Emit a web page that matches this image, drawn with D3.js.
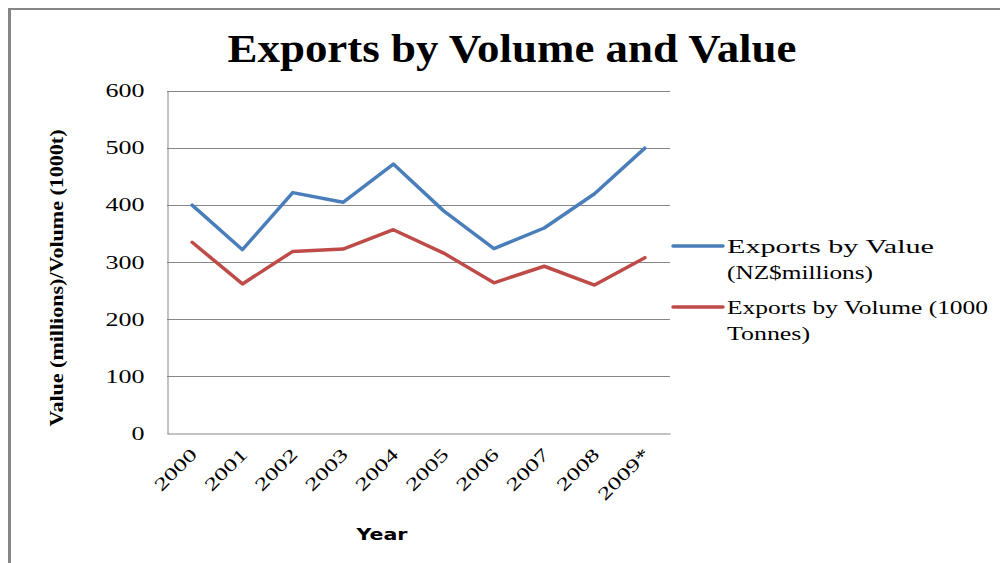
<!DOCTYPE html>
<html><head><meta charset="utf-8">
<script src="https://cdn.jsdelivr.net/npm/d3@7"></script>
<style>body{margin:0;background:#fff}svg{display:block}</style>
</head><body>
<svg id="c" width="1000" height="563"></svg>
<script>
const years = ["2000","2001","2002","2003","2004","2005","2006","2007","2008","2009*"];
const valueSeries = [400, 322, 422, 405, 472, 390, 324, 360, 420, 500];
const volumeSeries = [335, 262, 319, 323, 357, 316, 264, 293, 260, 308];
const yTicks = [0, 100, 200, 300, 400, 500, 600];
const seriesNames = [["Exports by Value", "(NZ$millions)"], ["Exports by Volume (1000", "Tonnes)"]];
const colors = ["#4a7ebb", "#be4b48"];

const svg = d3.select("#c");
const serif = "'Liberation Serif','Times New Roman',serif";

// frame
svg.append("line").attr("x1",9.5).attr("x2",9.5).attr("y1",8).attr("y2",563).attr("stroke","#868686").attr("stroke-width",3);
svg.append("line").attr("x1",8).attr("x2",1000).attr("y1",9).attr("y2",9).attr("stroke","#868686").attr("stroke-width",2);

const L=167, R=670, T=91, B=433.5;
const x = d3.scaleBand().domain(years).range([L,R]);
const y = d3.scaleLinear().domain([0,600]).range([B,T]);

// gridlines
svg.append("g").selectAll("line").data(yTicks.filter(d=>d>0)).join("line")
  .attr("x1",L).attr("x2",R).attr("y1",d=>Math.round(y(d))+0.5).attr("y2",d=>Math.round(y(d))+0.5)
  .attr("stroke","#868686").attr("stroke-width",1);

// y axis
const ya = svg.append("g").attr("transform",`translate(${L+0.5},0)`)
  .call(d3.axisLeft(y).tickValues(yTicks).tickSize(0).tickPadding(23));
ya.select(".domain").attr("stroke","#868686");
ya.selectAll("text").attr("font-family",serif).attr("font-size",18).attr("fill","#000")
  .attr("textLength",d=>String(d).length*13).attr("lengthAdjust","spacingAndGlyphs");

// x axis
const xa = svg.append("g").attr("transform",`translate(0,${B})`)
  .call(d3.axisBottom(x).tickSize(0).tickPadding(0));
xa.select(".domain").attr("stroke","#868686");
xa.selectAll("text").attr("font-family",serif).attr("font-size",18).attr("fill","#000")
  .attr("text-anchor","end").attr("dy",0).attr("y",0)
  .attr("textLength",d=>d.length*13).attr("lengthAdjust","spacingAndGlyphs")
  .attr("transform","translate(6,22) rotate(-45)");

// lines
const line = d3.line().x((d,i)=>x(years[i])+x.bandwidth()/2).y(d=>y(d));
[valueSeries, volumeSeries].forEach((s,i)=>{
  svg.append("path").datum(s).attr("d",line).attr("fill","none")
    .attr("stroke",colors[i]).attr("stroke-width",3.5).attr("stroke-linejoin","round").attr("stroke-linecap","round");
});

// title
svg.append("text").attr("x",512).attr("y",62).attr("text-anchor","middle")
  .attr("font-family",serif).attr("font-weight","bold").attr("font-size",39)
  .attr("textLength",569).attr("lengthAdjust","spacingAndGlyphs")
  .text("Exports by Volume and Value");

// y title
svg.append("text").attr("transform","translate(63,278) rotate(-90)").attr("text-anchor","middle")
  .attr("font-family",serif).attr("font-weight","bold").attr("font-size",19)
  .attr("textLength",297).attr("lengthAdjust","spacingAndGlyphs")
  .text("Value (millions)/Volume (1000t)");

// x title
svg.append("text").attr("x",382).attr("y",540).attr("text-anchor","middle")
  .attr("font-family","'DejaVu Sans',Verdana,sans-serif").attr("font-weight","bold").attr("font-size",16)
  .attr("textLength",51).attr("lengthAdjust","spacingAndGlyphs")
  .text("Year");

// legend
const legY = [246, 307];
const lengths = [[207,146],[261,83]];
seriesNames.forEach((n,i)=>{
  const g = svg.append("g");
  g.append("line").attr("x1",673).attr("x2",723).attr("y1",legY[i]).attr("y2",legY[i])
    .attr("stroke",colors[i]).attr("stroke-width",3.5).attr("stroke-linecap","round");
  n.forEach((t,j)=>{
    g.append("text").attr("x",727).attr("y",legY[i]+7+j*26)
      .attr("font-family",serif).attr("font-size",19).attr("fill","#000")
      .attr("textLength",lengths[i][j]).attr("lengthAdjust","spacingAndGlyphs")
      .text(t);
  });
});
</script>
</body></html>
